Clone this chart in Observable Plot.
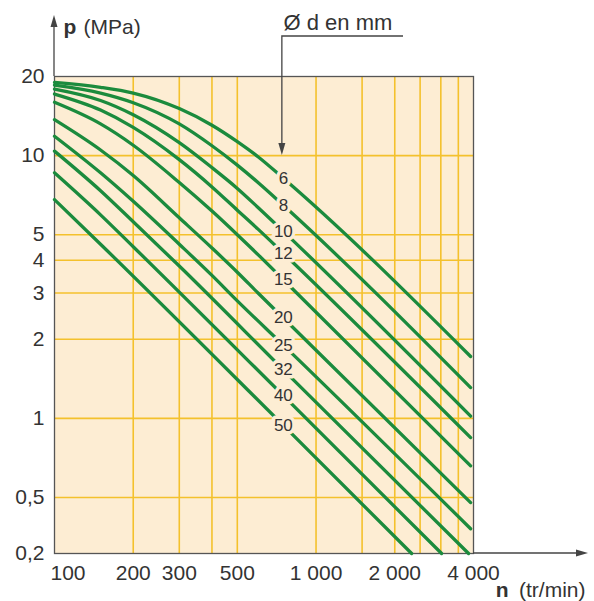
<!DOCTYPE html>
<html>
<head>
<meta charset="utf-8">
<script src="https://cdn.jsdelivr.net/npm/d3@7"></script>
<script src="https://cdn.jsdelivr.net/npm/@observablehq/plot@0.6"></script>
<style>
  html, body { margin: 0; padding: 0; background: #ffffff; }
  svg { display: block; }
</style>
</head>
<body>
<script>
// ---- Data ----
const diameters = [6, 8, 10, 12, 15, 20, 25, 32, 40, 50]; // Ø d en mm
// [n (tr/min), p (MPa)]
const curve6  = [[100, 19.0], [150, 18.2], [200, 17.3], [300, 15.1], [400, 13.05], [500, 11.3], [600, 9.9], [750, 8.2], [3900, 1.72]];
const curve8  = [[100, 18.55], [150, 17.3], [200, 15.9], [300, 13.2], [400, 10.9], [500, 9.2], [600, 7.9], [750, 6.47], [3900, 1.31]];
const curve10 = [[100, 17.9], [150, 16.2], [200, 14.3], [300, 11.2], [400, 9.0], [500, 7.5], [600, 6.35], [750, 5.15], [3900, 1.02]];
const curve12 = [[100, 17.15], [150, 14.9], [200, 12.8], [300, 9.65], [400, 7.6], [500, 6.2], [600, 5.25], [750, 4.25], [3900, 0.845]];
const curve15 = [[100, 15.95], [150, 13.2], [200, 10.95], [300, 7.9], [400, 6.15], [500, 5.0], [600, 4.2], [750, 3.37], [3900, 0.66]];
const curve20 = [[100, 13.7], [150, 10.5], [200, 8.4], [300, 5.8], [400, 4.45], [500, 3.6], [600, 3.0], [750, 2.41], [3900, 0.46]];
const curve25 = [[100, 11.85], [150, 8.6], [200, 6.7], [300, 4.6], [400, 3.5], [500, 2.8], [750, 1.9], [3900, 0.30]];
const curve32 = [[100, 10.4], [150, 7.35], [200, 5.6], [300, 3.8], [750, 1.53], [3830, 0.2]];
const curve40 = [[100, 8.6], [150, 5.95], [200, 4.5], [750, 1.22], [3020, 0.2]];
const curve50 = [[100, 6.8], [150, 4.6], [750, 0.94], [2320, 0.2]];
const curves = [curve6, curve8, curve10, curve12, curve15, curve20, curve25, curve32, curve40, curve50];
const labelSpeed = 750; // where the Ø labels sit on each curve

const xTickLabels = [200, 300, 500, 1000, 2000, 4000];
const xFirstLabel = [100];
const xGridLines = [200, 300, 400, 500, 1000, 1500, 2000, 2500, 3000, 3500];
const yTickLabels = [0.2, 0.5, 1, 2, 3, 4, 5, 10, 20];
const yGridLines = [0.5, 1, 2, 3, 4, 5, 10];

// ---- Build table ----
const rows = diameters.flatMap((d, i) => curves[i].map(([n, p]) => ({d, n, p})));
const labelRows = rows.filter(r => r.n === labelSpeed);

const fr = d3.formatLocale({decimal: ",", thousands: " ", grouping: [3], currency: ["", ""]});
const fmt = fr.format(",");

const bg = "#fdedd3";
const gridColor = "#f4c12c";
const green = "#1b8b3d";
const ink = "#333333";
const font = "'Liberation Sans', Arial, Helvetica, sans-serif";

const chart = Plot.plot({
  width: 594,
  height: 601,
  marginLeft: 54,
  marginRight: 121,
  marginTop: 76,
  marginBottom: 48,
  style: {fontFamily: font, fontSize: "21px", color: ink, background: "#ffffff"},
  x: {type: "log", domain: [100, 4000], axis: null},
  y: {type: "log", domain: [0.2, 0.5, 20], range: [553, 497, 76], axis: null},
  marks: [
    Plot.frame({fill: bg, stroke: null}),
    Plot.gridX(xGridLines, {stroke: gridColor, strokeOpacity: 1, strokeWidth: 1.6}),
    Plot.gridY(yGridLines, {stroke: gridColor, strokeOpacity: 1, strokeWidth: 1.6}),
    Plot.frame({stroke: "#555555", strokeWidth: 1.3}),
    Plot.text(yTickLabels, {y: d => d, frameAnchor: "left", textAnchor: "end", dx: -10, text: d => fmt(d), fill: ink}),
    Plot.text(xTickLabels, {x: d => d, frameAnchor: "bottom", textAnchor: "middle", lineAnchor: "top", dy: 12, text: d => fmt(d), fill: ink}),
    Plot.text(xFirstLabel, {x: d => d, frameAnchor: "bottom", textAnchor: "start", lineAnchor: "top", dy: 12, dx: -4, text: d => fmt(d), fill: ink}),
    Plot.line(rows, {x: "n", y: "p", z: "d", stroke: green, strokeWidth: 3.3, curve: "monotone-x"}),
    Plot.text(labelRows, {x: "n", y: "p", text: d => String(d.d), fontSize: 17, fill: ink,
      stroke: bg, strokeWidth: 7, paintOrder: "stroke"}),
    // axis titles and legend caption
    Plot.text(["p"], {frameAnchor: "top-left", dx: 9, dy: -43, textAnchor: "start", lineAnchor: "bottom", fontWeight: "bold", fill: ink}),
    Plot.text(["(MPa)"], {frameAnchor: "top-left", dx: 29, dy: -43, textAnchor: "start", lineAnchor: "bottom", fill: ink}),
    Plot.text(["Ø d en mm"], {frameAnchor: "top-left", dx: 229, dy: -47, textAnchor: "start", lineAnchor: "bottom", fontSize: 22, fill: ink}),
    Plot.text(["(tr/min)"], {frameAnchor: "bottom-right", dx: 112, dy: 43, textAnchor: "end", lineAnchor: "bottom", fill: ink}),
    Plot.text(["n"], {frameAnchor: "bottom-right", dx: 35, dy: 43, textAnchor: "end", lineAnchor: "bottom", fontWeight: "bold", fill: ink})
  ]
});

document.body.appendChild(chart);

// ---- Decorative arrows (axis arrows and caption pointer) ----
const X = chart.scale("x"), Y = chart.scale("y");
const svg = d3.select(chart);
const x0 = X.apply(100), yB = Y.apply(0.2), yT = Y.apply(20), xR = X.apply(4000);
const arrowInk = "#444444";
const g = svg.append("g").attr("fill", "none").attr("stroke", arrowInk).attr("stroke-width", 1.3);
// y axis arrow
g.append("line").attr("x1", x0).attr("x2", x0).attr("y1", yT).attr("y2", 25);
svg.append("path").attr("fill", arrowInk)
  .attr("d", `M${x0 - 3.5},27 L${x0},15 L${x0 + 3.5},27 Z`);
// x axis arrow
g.append("line").attr("x1", xR).attr("x2", 578).attr("y1", yB).attr("y2", yB);
svg.append("path").attr("fill", arrowInk)
  .attr("d", `M576,${yB - 3.5} L588,${yB} L576,${yB + 3.5} Z`);
// caption pointer to the labels
const xl = X.apply(labelSpeed) - 1, y10 = Y.apply(10);
g.append("path").attr("d", `M403,36 H${xl} V${y10 - 11}`);
svg.append("path").attr("fill", arrowInk)
  .attr("d", `M${xl - 3.5},${y10 - 12} L${xl},${y10} L${xl + 3.5},${y10 - 12} Z`);
</script>
</body>
</html>
